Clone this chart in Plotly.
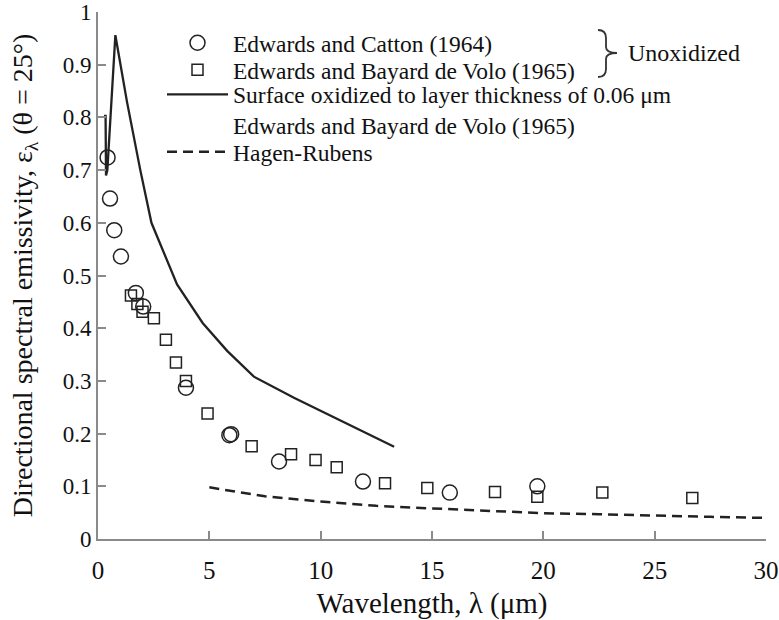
import plotly.graph_objects as go

# ---- data ----
catton_x = [0.43, 0.54, 0.73, 1.03, 1.70, 2.03, 3.95, 5.90, 5.98, 8.13, 11.9, 15.8, 19.73]
catton_y = [0.724, 0.646, 0.586, 0.536, 0.467, 0.441, 0.287, 0.197, 0.199, 0.147, 0.109, 0.088, 0.100]

bayard_x = [1.48, 1.77, 2.00, 2.51, 3.05, 3.50, 3.95, 4.92, 6.90, 8.67, 9.77, 10.72, 12.89,
            14.79, 17.83, 19.73, 22.65, 26.69]
bayard_y = [0.462, 0.446, 0.431, 0.419, 0.378, 0.335, 0.300, 0.238, 0.176, 0.161, 0.150, 0.136,
            0.106, 0.097, 0.089, 0.080, 0.088, 0.078]

oxid_x = [0.27, 0.34, 0.36, 0.42, 0.78, 1.3, 1.9, 2.4, 3.55, 4.7, 5.8, 7.0, 8.8, 10.3, 11.8, 13.3]
oxid_y = [0.803, 0.803, 0.69, 0.70, 0.956, 0.83, 0.70, 0.60, 0.483, 0.41, 0.357, 0.308, 0.268,
          0.237, 0.205, 0.175]

hagen_x = [5.0, 7.5, 10, 12.5, 15, 17.5, 20, 22.5, 25, 27.5, 30]
hagen_y = [0.098, 0.081, 0.071, 0.063, 0.058, 0.053, 0.049, 0.047, 0.044, 0.042, 0.040]

x_ticks = [0, 5, 10, 15, 20, 25, 30]
y_ticks = [0, 0.1, 0.2, 0.3, 0.4, 0.5, 0.6, 0.7, 0.8, 0.9, 1]
y_ticktext = ["0", "0.1", "0.2", "0.3", "0.4", "0.5", "0.6", "0.7", "0.8", "0.9", "1"]

FONT = "Liberation Serif"
INK = "#222222"
TXT = "#111111"
AXIS = "#8a8a8a"

fig = go.Figure()
fig.add_trace(go.Scatter(x=hagen_x, y=hagen_y, mode="lines", name="Hagen-Rubens",
                         line=dict(color=INK, width=2.5, dash="10px,6px"), legend="legend4"))
fig.add_trace(go.Scatter(x=oxid_x, y=oxid_y, mode="lines",
                         name="Surface oxidized to layer thickness of 0.06 μm<br>Edwards and Bayard de Volo (1965)",
                         line=dict(color=INK, width=2.3), legend="legend3"))
fig.add_trace(go.Scatter(x=bayard_x, y=bayard_y, mode="markers", name="Edwards and Bayard de Volo (1965)",
                         marker=dict(symbol="square-open", size=11, color=INK, line=dict(width=1.5)),
                         legend="legend2"))
fig.add_trace(go.Scatter(x=catton_x, y=catton_y, mode="markers", name="Edwards and Catton (1964)",
                         marker=dict(symbol="circle-open", size=15, color=INK, line=dict(width=1.5)),
                         legend="legend"))

L, T, R, B = 98, 12, 13, 81
W, H = 779, 620
pw, ph = W - L - R, H - T - B

def px(xp):
    return (xp - L) / pw

def py(yp):
    return (H - B - yp) / ph

legfont = dict(family=FONT, size=23.5, color=TXT)
def leg(row_y):
    return dict(x=px(162), y=py(row_y), xanchor="left", yanchor="middle", font=legfont,
                bgcolor="rgba(0,0,0,0)", borderwidth=0, itemwidth=61, valign="middle",
                tracegroupgap=0)

lay = dict(
    width=W, height=H,
    margin=dict(l=L, r=R, t=T, b=B, autoexpand=False),
    paper_bgcolor="white", plot_bgcolor="white",
    font=dict(family=FONT, size=22, color=TXT),
    xaxis=dict(range=[0, 30], tickvals=x_ticks, ticks="inside", ticklen=8, tickwidth=1.5,
               tickcolor=AXIS, showline=True, linecolor=AXIS, linewidth=2, showgrid=False,
               zeroline=False, automargin=False, ticklabelstandoff=8,
               tickfont=dict(family=FONT, size=25, color=TXT),
               title=dict(text="Wavelength, λ (μm)", font=dict(family=FONT, size=29, color=TXT),
                          standoff=12)),
    yaxis=dict(range=[0, 1], tickvals=y_ticks, ticktext=y_ticktext, ticks="inside", ticklen=8,
               tickwidth=1.5, tickcolor=AXIS, showline=True, linecolor=AXIS, linewidth=2,
               showgrid=False, zeroline=False, automargin=False,
               tickfont=dict(family=FONT, size=23, color=TXT),
               title=dict(text="Directional spectral emissivity, ε<sub>λ</sub> (θ = 25°)",
                          font=dict(family=FONT, size=28, color=TXT), standoff=22)),
    showlegend=True,
    legend=leg(43),
    legend2=leg(70),
    legend3=dict(leg(110), valign="top"),
    legend4=leg(152),
)
fig.update_layout(**lay)

# curly brace grouping the two unoxidized data sets
brace = [(598, 30), (606, 30), (606, 38), (606, 47), (606, 53), (617, 53),
         (606, 53), (606, 59), (606, 69), (606, 77), (598, 77)]
p = [(px(a), py(b)) for a, b in brace]
path = (f"M {p[0][0]},{p[0][1]} Q {p[1][0]},{p[1][1]} {p[2][0]},{p[2][1]} "
        f"L {p[3][0]},{p[3][1]} Q {p[4][0]},{p[4][1]} {p[5][0]},{p[5][1]} "
        f"Q {p[6][0]},{p[6][1]} {p[7][0]},{p[7][1]} L {p[8][0]},{p[8][1]} "
        f"Q {p[9][0]},{p[9][1]} {p[10][0]},{p[10][1]}")
fig.add_shape(type="path", path=path, xref="paper", yref="paper",
              line=dict(color="#333", width=1.8))
fig.add_annotation(text="Unoxidized", xref="paper", yref="paper", x=px(626), y=py(53),
                   xanchor="left", yanchor="middle", showarrow=False,
                   font=dict(family=FONT, size=24, color=TXT))

fig.write_html("out.html")
